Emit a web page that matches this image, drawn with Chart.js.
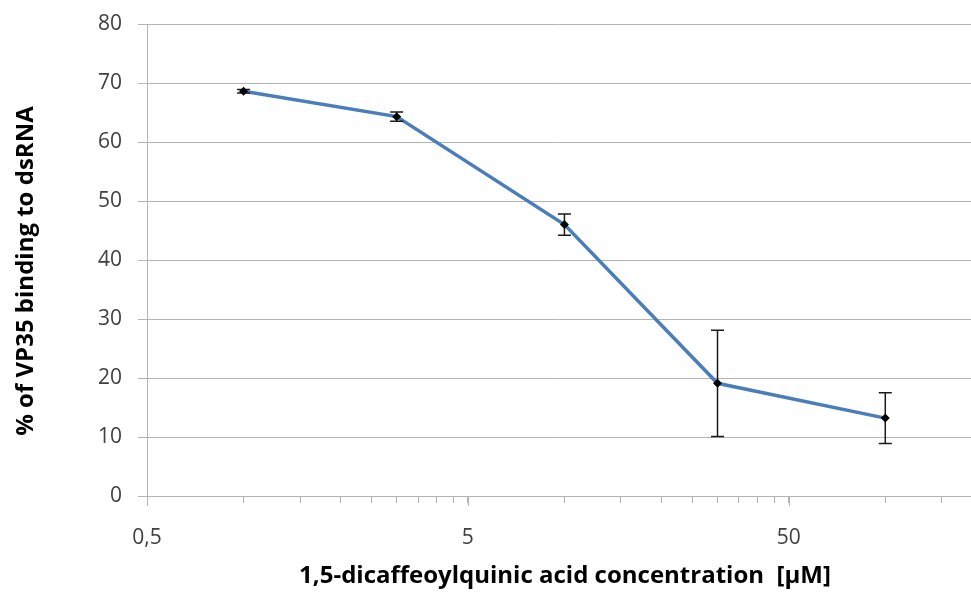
<!DOCTYPE html>
<html>
<head>
<meta charset="utf-8">
<script src="https://cdn.jsdelivr.net/npm/chart.js@4/dist/chart.umd.min.js"></script>
<style>
  html, body { margin: 0; padding: 0; background: #ffffff; }
  canvas { display: block; }
</style>
</head>
<body>
<canvas id="c" width="971" height="593"></canvas>
<script>
// Concentrations in µM and the measured binding (mean ± error)
const concentrations = [1, 3, 10, 30, 100];
const bindingPercent = [68.6, 64.3, 46.0, 19.1, 13.2];
const bindingError = [0.3, 0.8, 1.8, 9.0, 4.3];

// Log axis ticks: minor steps of 0.5, 5 and 50 within each decade
const xTickValues = [0.5, 1, 1.5, 2, 2.5, 3, 3.5, 4, 4.5, 5,
                     10, 15, 20, 25, 30, 35, 40, 45, 50, 100, 150];
const xLabeledTicks = [0.5, 5, 50];
const yTickValues = [0, 10, 20, 30, 40, 50, 60, 70, 80];

const xTitle = '1,5-dicaffeoylquinic acid concentration  [μM]';
const yTitle = '% of VP35 binding to dsRNA';

const fontFamily = '"Open Sans", "Noto Sans", sans-serif';
const tickFont = { family: fontFamily, size: 21 };
const gridColor = '#b4b4b4';

const points = concentrations.map((x, i) => ({ x: x, y: bindingPercent[i] }));

// Vertical error bars with caps, drawn over the line and under the markers
const errorBars = {
  id: 'errorBars',
  afterDatasetDraw(chart, args) {
    if (args.index !== 1) return;
    const ctx = chart.ctx, xs = chart.scales.x, ys = chart.scales.y;
    ctx.save();
    ctx.strokeStyle = '#1a1a1a';
    ctx.lineWidth = 1.5;
    concentrations.forEach((c, i) => {
      const px = xs.getPixelForValue(c);
      const top = ys.getPixelForValue(bindingPercent[i] + bindingError[i]);
      const bot = ys.getPixelForValue(bindingPercent[i] - bindingError[i]);
      ctx.beginPath();
      ctx.moveTo(px, top); ctx.lineTo(px, bot);
      ctx.moveTo(px - 6.5, top); ctx.lineTo(px + 6.5, top);
      ctx.moveTo(px - 6.5, bot); ctx.lineTo(px + 6.5, bot);
      ctx.stroke();
    });
    ctx.restore();
  }
};

// Longer tick marks at the labelled decades of the x axis, plus axis titles
const axisDecor = {
  id: 'axisDecor',
  afterDraw(chart) {
    const ctx = chart.ctx, xs = chart.scales.x, area = chart.chartArea;
    ctx.save();
    ctx.strokeStyle = gridColor;
    ctx.lineWidth = 1;
    xLabeledTicks.forEach(v => {
      const px = Math.round(xs.getPixelForValue(v)) + 0.5;
      ctx.beginPath();
      ctx.moveTo(px, xs.top);
      ctx.lineTo(px, xs.top + 10);
      ctx.stroke();
    });

    ctx.fillStyle = '#000000';
    ctx.font = 'bold 24px ' + fontFamily;
    ctx.textAlign = 'center';
    ctx.textBaseline = 'middle';
    ctx.fillText(xTitle, 565, area.bottom + 80);

    ctx.translate(26, (area.top + area.bottom) / 2 + 11);
    ctx.rotate(-Math.PI / 2);
    ctx.fillText(yTitle, 0, 0);
    ctx.restore();
  }
};

new Chart(document.getElementById('c'), {
  type: 'line',
  data: {
    datasets: [
      {
        data: points,
        showLine: false,
        pointStyle: 'rectRot',
        pointRadius: 4.5,
        pointBackgroundColor: '#000000',
        pointBorderColor: '#000000',
        pointBorderWidth: 0
      },
      {
        data: points,
        borderColor: '#4a7ebb',
        borderWidth: 3.5,
        pointRadius: 0,
        tension: 0,
        fill: false
      }
    ]
  },
  options: {
    responsive: false,
    devicePixelRatio: 1,
    animation: false,
    layout: { autoPadding: false, padding: { top: 24, right: 0, bottom: 0, left: 0 } },
    plugins: { legend: { display: false }, tooltip: { enabled: false } },
    scales: {
      x: {
        type: 'logarithmic',
        min: 0.5,
        max: 185,
        afterBuildTicks(scale) {
          scale.ticks = xTickValues.map(v => ({ value: v }));
        },
        afterFit(scale) {
          scale.height = 97;
          scale.paddingLeft = 0;
          scale.paddingRight = 0;
        },
        border: { color: gridColor, width: 1 },
        grid: { drawOnChartArea: false, drawTicks: true, tickLength: 7, color: gridColor },
        ticks: {
          autoSkip: false,
          maxRotation: 0,
          padding: 22,
          color: '#404040',
          font: tickFont,
          callback(value) {
            return xLabeledTicks.includes(value) ? String(value).replace('.', ',') : '';
          }
        }
      },
      y: {
        type: 'linear',
        min: 0,
        max: 80,
        afterBuildTicks(scale) {
          scale.ticks = yTickValues.map(v => ({ value: v }));
        },
        afterFit(scale) {
          scale.width = 147;
          scale.paddingTop = 0;
          scale.paddingBottom = 0;
        },
        border: { color: gridColor, width: 1 },
        grid: { color: gridColor, tickLength: 9, lineWidth: 1 },
        ticks: {
          padding: 16,
          color: '#404040',
          font: tickFont
        }
      }
    }
  },
  plugins: [errorBars, axisDecor]
});
</script>
</body>
</html>
